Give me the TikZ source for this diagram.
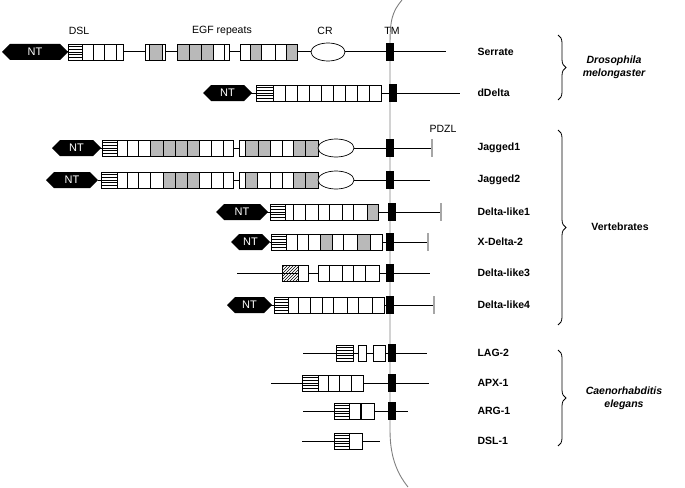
\documentclass[tikz,border=0pt]{standalone}
\usepackage{fontspec}
\setmainfont{Liberation Sans}
\usetikzlibrary{patterns,decorations.pathreplacing}
\newcommand{\NTh}[3]{\fill (#1,#3) -- (#1+8,#3-8) -- (#2-8,#3-8) -- (#2,#3) -- (#2-8,#3+8) -- (#1+8,#3+8) -- cycle;
 \node[text=white,font=\fontsize{11}{11}\selectfont] at ({(#1+#2)/2},#3) {NT};}
\newcommand{\bx}[4]{\draw[fill=#4,line width=0.6pt] (#1,#3-8) rectangle (#2,#3+8);}
\newcommand{\dsl}[3]{\draw[fill=white,line width=0.6pt] (#1,#3-8) rectangle (#2,#3+8);
 \foreach \k in {-5.3,-2.7,0,2.7,5.3} \draw[line width=0.7pt] (#1,#3+\k) -- (#2,#3+\k);}
\newcommand{\tm}[2]{\fill (#1,#2-9) rectangle (#1+8,#2+9);}
\newcommand{\pdz}[2]{\draw[gray!70,line width=2pt] (#1,#2-9) -- (#1,#2+9);}
\newcommand{\hl}[3]{\draw[line width=1pt] (#1,#3) -- (#2,#3);}
\newcommand{\boxes}[4]{\foreach \a/\b/\c in {#4} \bx{\a}{\b}{#3}{\c};}
\tikzset{nm/.style={anchor=west,font=\bfseries\fontsize{10.5}{12}\selectfont},
 lab/.style={font=\fontsize{10.5}{12}\selectfont},
 br/.style={decorate,decoration={brace,amplitude=8pt},line width=0.8pt}}
\colorlet{g}{gray!55}
\begin{document}
\begin{tikzpicture}[x=1pt,y=-1pt]
\useasboundingbox (0,0) rectangle (685,487);
% membrane
\draw[gray,line width=0.9pt] (402,0) .. controls (392,12) and (390,20) .. (390,45) -- (390,430) .. controls (390,455) and (396,472) .. (408,487);
% Serrate y=52
\hl{60}{446}{52}
\NTh{2}{68}{52}
\dsl{68}{82}{52}
\boxes{82}{123}{52}{82/93/white,93/104/white,104/116/white,116/123/white}
\boxes{145}{165}{52}{145/149/white,149/162/g,162/165/white}
\boxes{177}{229}{52}{177/189/g,189/201/g,201/213/g,213/224/white,224/229/white}
\boxes{240}{297}{52}{240/250/white,250/261/g,261/275/white,275/286/white,286/297/g}
\draw[fill=white,line width=0.7pt] (328,52) ellipse (17 and 9);
\tm{386}{52}
\node[lab] at (79,31) {DSL};
\node[lab] at (222,31) {EGF repeats};
\node[lab] at (325,31) {CR};
\node[lab] at (392,31) {TM};
% dDelta y=93
\hl{250}{460}{93}
\NTh{203}{252}{93}
\dsl{256}{273}{93}
\foreach \i in {0,...,8} \bx{273+12*\i}{285+12*\i}{93}{white};
\tm{389}{93}
% Jagged1 y=148
\hl{100}{432}{148}
\NTh{52}{101}{148}
\dsl{102}{117}{148}
\boxes{117}{233}{148}{117/127/white,127/138/white,138/150/white,150/163/g,163/175/g,175/187/g,187/199/g,199/211/white,211/223/white,223/233/white}
\boxes{239}{318}{148}{239/245/white,245/258/g,258/270/g,270/282/white,282/293/white,293/305/g,305/318/g}
\draw[fill=white,line width=0.7pt] (336,148) ellipse (18 and 9);
\tm{386}{148}
\pdz{432}{148}
\node[lab] at (443,129) {PDZL};
% Jagged2 y=180
\hl{98}{430}{180}
\NTh{46}{98}{180}
\dsl{101}{117}{180}
\boxes{117}{233}{180}{117/127/white,127/138/white,138/150/white,150/163/white,163/175/g,175/187/g,187/199/g,199/211/white,211/223/white,223/233/white}
\boxes{239}{318}{180}{239/245/white,245/257/g,257/270/white,270/282/white,282/293/white,293/305/g,305/318/g}
\draw[fill=white,line width=0.7pt] (336,180) ellipse (18 and 9);
\tm{386}{180}
% Delta-like1 y=212
\hl{262}{441}{212}
\NTh{216}{268}{212}
\dsl{270}{285}{212}
\boxes{285}{378}{212}{285/293/white,293/305/white,305/318/white,318/329/white,329/342/white,342/353/white,353/367/white,367/378/g}
\tm{388}{212}
\pdz{441}{212}
% X-Delta-2 y=242
\hl{270}{428}{242}
\NTh{231}{270}{242}
\dsl{271}{286}{242}
\boxes{286}{382}{242}{286/297/white,297/308/white,308/320/white,320/332/g,332/343/white,343/357/white,357/370/g,370/382/white}
\tm{386}{242}
\pdz{428}{242}
% Delta-like3 y=273
\hl{237}{430}{273}
\draw[pattern=north east lines,line width=0.6pt] (282,265) rectangle (298,281);
\bx{298}{308}{273}{white}
\boxes{318}{379}{273}{318/329/white,329/342/white,342/353/white,353/365/white,365/379/white}
\tm{386}{273}
% Delta-like4 y=305
\hl{270}{434}{305}
\NTh{227}{272}{305}
\dsl{274}{288}{305}
\boxes{288}{384}{305}{288/298/white,298/310/white,310/322/white,322/333/white,333/347/white,347/358/white,358/372/white,372/384/white}
\tm{386}{305}
\pdz{434}{305}
% LAG-2 y=353
\hl{303}{427}{353}
\dsl{336}{353}{353}
\bx{358}{366}{353}{white}
\bx{373}{385}{353}{white}
\tm{388}{353}
% APX-1 y=383
\hl{271}{429}{383}
\dsl{302}{318}{383}
\boxes{318}{363}{383}{318/328/white,328/339/white,339/351/white,351/363/white}
\tm{388}{383}
% ARG-1 y=411
\hl{303}{408}{411}
\dsl{334}{349}{411}
\bx{349}{360}{411}{white}
\bx{361}{374}{411}{white}
\tm{388}{411}
% DSL-1 y=441
\hl{302}{380}{441}
\dsl{334}{349}{441}
\bx{349}{362}{441}{white}
% names
\node[nm] at (474,52) {Serrate};
\node[nm] at (474,93) {dDelta};
\node[nm] at (474,148) {Jagged1};
\node[nm] at (474,180) {Jagged2};
\node[nm] at (474,212) {Delta-like1};
\node[nm] at (474,242) {X-Delta-2};
\node[nm] at (474,273) {Delta-like3};
\node[nm] at (474,305) {Delta-like4};
\node[nm] at (474,353) {LAG-2};
\node[nm] at (474,383) {APX-1};
\node[nm] at (474,411) {ARG-1};
\node[nm] at (474,441) {DSL-1};
% braces
\draw[br] (558,35) -- (558,100);
\draw[br] (558,130) -- (558,325);
\draw[br] (558,350) -- (558,446);
\node[font=\bfseries\itshape\fontsize{10.5}{13}\selectfont,align=center] at (614,67) {Drosophila\\melongaster};
\node[font=\bfseries\fontsize{10.5}{13}\selectfont] at (620,227) {Vertebrates};
\node[font=\bfseries\itshape\fontsize{10.5}{13}\selectfont,align=center] at (624,398) {Caenorhabditis\\elegans};
\end{tikzpicture}
\end{document}
